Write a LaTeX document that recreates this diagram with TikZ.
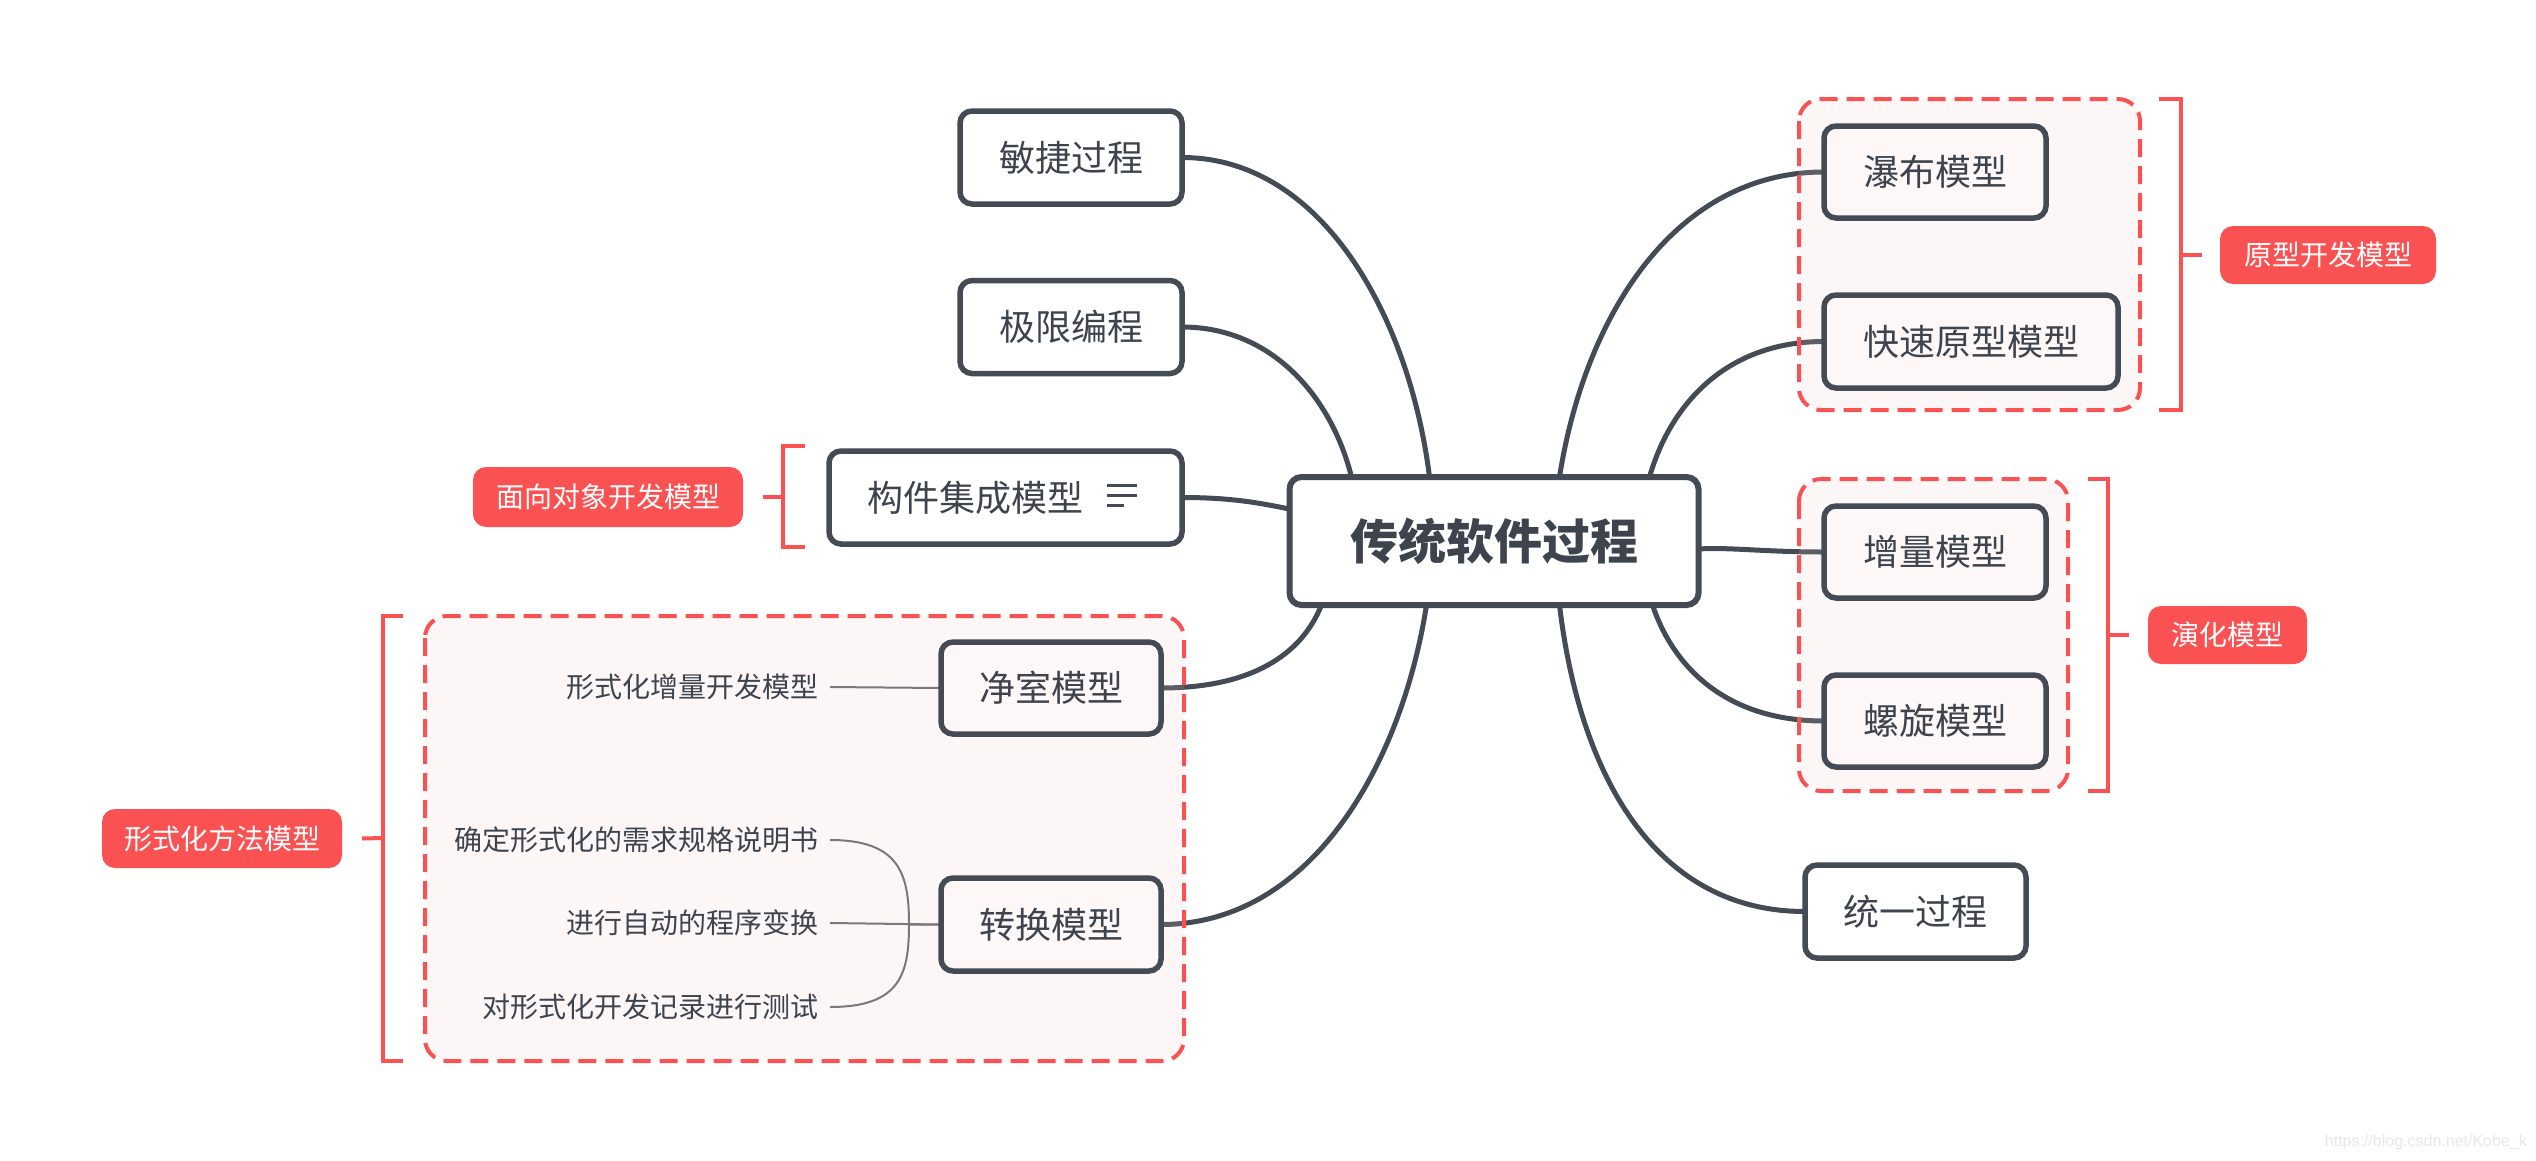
\documentclass[tikz,border=0pt]{standalone}
\usepackage{fontspec}
\setmainfont{Noto Sans CJK SC}
\newfontfamily\wmfont{Liberation Sans}
\usetikzlibrary{calc}
\pgfdeclarelayer{bglayer}
\pgfdeclarelayer{connlayer}
\pgfdeclarelayer{grplayer}
\pgfsetlayers{bglayer,connlayer,grplayer,main}
\definecolor{ink}{RGB}{68,75,84}
\definecolor{txt}{RGB}{62,68,78}
\definecolor{redl}{RGB}{250,82,82}
\definecolor{grpfill}{RGB}{240,200,205}
\definecolor{inpink}{RGB}{253,247,247}
\definecolor{thinc}{RGB}{105,105,112}
\tikzset{
  box/.style={draw=ink, line width=5.5pt, rounded corners=12pt, fill=white, inner sep=0pt, outer sep=0pt, text=txt, font=\fontsize{36}{40}\selectfont},
  gbox/.style={box, fill=inpink},
  tag/.style={fill=redl, rounded corners=13pt, text=white, font=\fontsize{28}{32}\selectfont, inner sep=0pt, outer sep=0pt},
  subtxt/.style={anchor=east, text=txt, font=\fontsize{28}{32}\selectfont, inner sep=0pt},
  link/.style={draw=ink, line width=5pt, line cap=round},
  thinl/.style={draw=thinc, line width=2pt},
  brk/.style={draw=redl, line width=4pt},
  grpline/.style={draw=redl, line width=4pt, dash pattern=on 18pt off 9pt, rounded corners=22pt},
  grpbg/.style={fill=grpfill, fill opacity=0.15, rounded corners=22pt}
}
\begin{document}
\begin{tikzpicture}[x=1pt,y=-1pt]
\useasboundingbox (0,0) rectangle (2536,1160);
\begin{pgfonlayer}{bglayer}
\fill[white] (0,0) rectangle (2536,1160);
\end{pgfonlayer}

% main nodes
\node[box, line width=6pt, minimum width=409pt, minimum height=128pt, font=\bfseries\fontsize{48}{52}\selectfont] (main) at (1494,541) {传统软件过程};

\node[box, minimum width=222pt, minimum height=93pt] (ag) at (1071,157.5) {敏捷过程};
\node[box, minimum width=222pt, minimum height=93pt] (xp) at (1071,327) {极限编程};
\node[box, minimum width=353pt, minimum height=93pt] (cb) at (1005.5,497.5) {构件集成模型\hspace*{60pt}};
\node[gbox, minimum width=220pt, minimum height=92pt] (cr) at (1051,688) {净室模型};
\node[gbox, minimum width=220pt, minimum height=93pt] (tr) at (1051,924.5) {转换模型};

\node[gbox, minimum width=222pt, minimum height=92pt] (wf) at (1935,172) {瀑布模型};
\node[gbox, minimum width=294pt, minimum height=93pt] (rp) at (1971,341.5) {快速原型模型};
\node[gbox, minimum width=222pt, minimum height=92pt] (inc) at (1935,552) {增量模型};
\node[gbox, minimum width=222pt, minimum height=92pt] (sp) at (1935,721) {螺旋模型};
\node[box, minimum width=221pt, minimum height=93pt] (up) at (1915.5,911.5) {统一过程};

% icon in cb
\draw[ink, line width=3pt] ([shift={(-75,-12)}]cb.east) -- ++(30,0);
\draw[ink, line width=3pt] ([shift={(-75,-2)}]cb.east) -- ++(30,0);
\draw[ink, line width=3pt] ([shift={(-75,8)}]cb.east) -- ++(17,0);

% tags
\node[tag, minimum width=270pt, minimum height=60pt] (oo) at (608,497) {面向对象开发模型};
\node[tag, minimum width=216pt, minimum height=58pt] (pt) at (2328,255) {原型开发模型};
\node[tag, minimum width=159pt, minimum height=58pt] (ev) at (2227.5,635) {演化模型};
\node[tag, minimum width=240pt, minimum height=59pt] (fm) at (222,838.5) {形式化方法模型};

% sub texts
\node[subtxt] (s1) at (819,687) {形式化增量开发模型};
\node[subtxt] (t1) at (819,840) {确定形式化的需求规格说明书};
\node[subtxt] (t2) at (819,923) {进行自动的程序变换};
\node[subtxt] (t3) at (819,1007) {对形式化开发记录进行测试};
\coordinate (jn) at ([xshift=-32pt]tr.west);

% brackets
\draw[brk] (805,446) -- (783,446) -- (783,547) -- (805,547);
\draw[brk] ([xshift=20pt]oo.east) -- (783,497);
\draw[brk] (2159,99) -- (2181,99) -- (2181,410) -- (2159,410);
\draw[brk] ([xshift=-18pt]pt.west) -- (2181,255);
\draw[brk] (2088,479) -- (2108,479) -- (2108,791) -- (2088,791);
\draw[brk] ([xshift=-19pt]ev.west) -- (2108,635);
\draw[brk] (403,616) -- (383,616) -- (383,1061) -- (403,1061);
\draw[brk] ([xshift=20pt]fm.east) -- (383,838);

% watermark
\node[anchor=south east, text=black!9, font=\wmfont\fontsize{16}{18}\selectfont, inner sep=0pt] (wm) at (2527,1150) {https://blog.csdn.net/Kobe\_k};

% groups
\begin{pgfonlayer}{grplayer}
\fill[grpbg] (1799,99) rectangle (2140,410);
\draw[grpline] (1799,99) rectangle (2140,410);
\fill[grpbg] (1799,479) rectangle (2068,791);
\draw[grpline] (1799,479) rectangle (2068,791);
\fill[grpbg] (425,616) rectangle (1184,1061);
\draw[grpline] (425,616) rectangle (1184,1061);
\end{pgfonlayer}

% connectors
\begin{pgfonlayer}{connlayer}
\draw[link] (ag.east) .. controls +(140,0) and +(-20,-160) .. ([xshift=140pt]main.north west);
\draw[link] (xp.east) .. controls +(90,0) and +(-20,-80) .. ([xshift=62pt]main.north west);
\draw[link] (cb.east) .. controls +(50,0) and +(-30,-6) .. ([yshift=-32pt]main.north west);
\draw[link] (cr.east) .. controls +(90,0) and +(-20,50) .. ([xshift=32pt]main.south west);
\draw[link] (tr.east) .. controls +(150,0) and +(-25,160) .. ([xshift=137pt]main.south west);
\draw[link] (wf.west) .. controls +(-150,0) and +(25,-160) .. ([xshift=270pt]main.north west);
\draw[link] (rp.west) .. controls +(-100,0) and +(20,-70) .. ([xshift=360pt]main.north west);
\draw[link] (inc.west) .. controls +(-60,0) and +(30,-2) .. ([yshift=-72pt]main.north east);
\draw[link] (sp.west) .. controls +(-100,0) and +(20,60) .. ([xshift=363pt]main.south west);
\draw[link] (up.west) .. controls +(-150,0) and +(20,170) .. ([xshift=270pt]main.south west);
\draw[thinl] ([xshift=11pt]s1.east) -- (cr.west);
\draw[thinl] ([xshift=11pt]t1.east) .. controls +(70,0) and +(0,-50) .. (jn) -- (tr.west);
\draw[thinl] ([xshift=11pt]t2.east) -- (tr.west);
\draw[thinl] ([xshift=11pt]t3.east) .. controls +(70,0) and +(0,50) .. (jn);
\end{pgfonlayer}
\end{tikzpicture}
\end{document}
